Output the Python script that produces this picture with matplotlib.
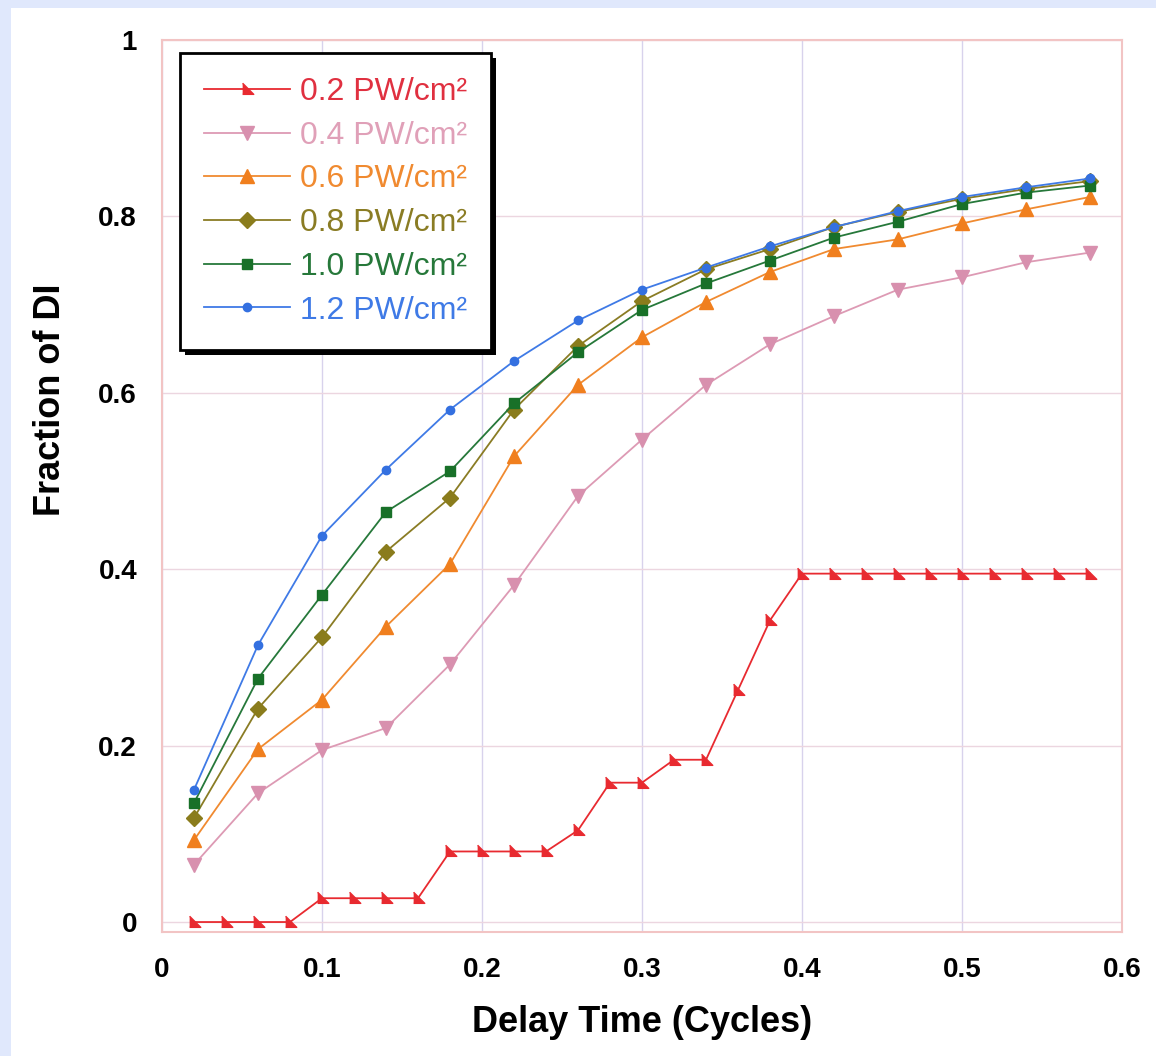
import matplotlib
matplotlib.use("Agg")
import matplotlib.pyplot as plt
from matplotlib.patches import Rectangle
from matplotlib.transforms import IdentityTransform
import numpy as np

plt.rcParams['font.family'] = ['Liberation Sans', 'DejaVu Sans']

# ---- data ----
x_fine = [0.02, 0.04, 0.06, 0.08, 0.10, 0.12, 0.14, 0.16, 0.18, 0.20,
          0.22, 0.24, 0.26, 0.28, 0.30, 0.32, 0.34, 0.36, 0.38, 0.40,
          0.42, 0.44, 0.46, 0.48, 0.50, 0.52, 0.54, 0.56, 0.58]
y_02 = [0.0, 0.0, 0.0, 0.0, 0.027, 0.027, 0.027, 0.027, 0.080, 0.080,
        0.080, 0.080, 0.104, 0.158, 0.158, 0.184, 0.184, 0.263, 0.342, 0.395,
        0.395, 0.395, 0.395, 0.395, 0.395, 0.395, 0.395, 0.395, 0.395]

x_coarse = [0.02, 0.06, 0.10, 0.14, 0.18, 0.22, 0.26, 0.30, 0.34, 0.38,
            0.42, 0.46, 0.50, 0.54, 0.58]
y_04 = [0.065, 0.146, 0.195, 0.220, 0.292, 0.382, 0.483, 0.547, 0.609, 0.655,
        0.687, 0.717, 0.731, 0.748, 0.759]
y_06 = [0.093, 0.196, 0.252, 0.335, 0.406, 0.528, 0.609, 0.663, 0.703, 0.737,
        0.763, 0.774, 0.792, 0.808, 0.822]
y_08 = [0.118, 0.242, 0.323, 0.420, 0.481, 0.581, 0.653, 0.704, 0.740, 0.763,
        0.788, 0.805, 0.820, 0.831, 0.840]
y_10 = [0.135, 0.276, 0.371, 0.465, 0.511, 0.588, 0.646, 0.694, 0.724, 0.750,
        0.776, 0.794, 0.814, 0.827, 0.835]
y_12 = [0.150, 0.314, 0.438, 0.513, 0.581, 0.636, 0.682, 0.717, 0.742, 0.766,
        0.788, 0.806, 0.822, 0.833, 0.843]

labels = ['0.2 PW/cm²', '0.4 PW/cm²', '0.6 PW/cm²',
          '0.8 PW/cm²', '1.0 PW/cm²', '1.2 PW/cm²']
x_ticks = [0, 0.1, 0.2, 0.3, 0.4, 0.5, 0.6]
x_ticklabels = ['0', '0.1', '0.2', '0.3', '0.4', '0.5', '0.6']
y_ticks = [0, 0.2, 0.4, 0.6, 0.8, 1.0]
y_ticklabels = ['0', '0.2', '0.4', '0.6', '0.8', '1']

# ---- figure ----
W, H = 1156, 1056
fig = plt.figure(figsize=(W / 100, H / 100), dpi=100, facecolor='#e0e8fc')
bg = Rectangle((11 / W, 0), 1, 1 - 8 / H, transform=fig.transFigure,
               facecolor='white', edgecolor='none', zorder=-10)
fig.add_artist(bg)

ax = fig.add_axes([162 / W, 1 - 932 / H, 960 / W, 892 / H])
ax.set_zorder(1)
ax.set_xlim(0, 0.6)
ax.set_ylim(-0.0113, 1.0)

tri = [(-0.7, 0.9), (0.9, -0.7), (-0.7, -0.7)]

ax.plot(x_fine, y_02, color='#e82a30', lw=1.3, marker=tri, ms=9,
        label=labels[0], zorder=3)
ax.plot(x_coarse, y_04, color='#dd9ab4', lw=1.3, marker='v', ms=10,
        mfc='#d890ae', mec='#d890ae', label=labels[1], zorder=3)
ax.plot(x_coarse, y_06, color='#f08a30', lw=1.3, marker='^', ms=10,
        mfc='#f07f1e', mec='#f07f1e', label=labels[2], zorder=3)
ax.plot(x_coarse, y_08, color='#8a7c24', lw=1.3, marker='D', ms=8,
        mfc='#8a7c1c', mec='#8a7c1c', label=labels[3], zorder=3)
ax.plot(x_coarse, y_10, color='#26783a', lw=1.3, marker='s', ms=7.5,
        mfc='#187028', mec='#187028', label=labels[4], zorder=3)
ax.plot(x_coarse, y_12, color='#3f7ae6', lw=1.3, marker='o', ms=6,
        mfc='#3470e0', mec='#3470e0', label=labels[5], zorder=3)

ax.set_xticks(x_ticks)
ax.set_xticklabels(x_ticklabels)
ax.set_yticks(y_ticks)
ax.set_yticklabels(y_ticklabels)
ax.tick_params(length=0, labelsize=20, pad=18)
for t in ax.get_xticklabels() + ax.get_yticklabels():
    t.set_fontweight('bold')

ax.xaxis.grid(True, color='#d8d2ec', lw=1.0)
ax.yaxis.grid(True, color='#ecd6e0', lw=1.0)
ax.set_axisbelow(True)
for s in ax.spines.values():
    s.set_color('#f2c4c4')
    s.set_linewidth(1.5)

ax.set_xlabel('Delay Time (Cycles)', fontsize=26, fontweight='bold')
ax.xaxis.set_label_coords(0.5, (932 - 1022) / 892, transform=ax.transAxes)
ax.xaxis.label.set_va('center')
ax.set_ylabel('Fraction of DI', fontsize=26, fontweight='bold')
ax.yaxis.set_label_coords((51 - 162) / 960, (932 - 400) / 892)
ax.yaxis.label.set_va('center')

leg = ax.legend(loc='upper left', bbox_to_anchor=(18 / 960, 1 - 13 / 892),
                fontsize=23, frameon=True, fancybox=False, handlelength=2.7,
                handletextpad=0.3, borderpad=0.75, labelspacing=0.43,
                borderaxespad=0)
leg.get_frame().set_edgecolor('black')
leg.get_frame().set_linewidth(2)
leg.get_frame().set_alpha(1)
leg.set_zorder(6)
line_colors = ['#e03040', '#e0a0b8', '#f08a30', '#8a7c24', '#26783a', '#3f7ae6']
for t, c in zip(leg.get_texts(), line_colors):
    t.set_color(c)

fig.canvas.draw()
bb = leg.get_window_extent(fig.canvas.get_renderer())
shadow = Rectangle((bb.x0 + 5, bb.y0 - 5), bb.width, bb.height,
                   transform=IdentityTransform(), facecolor='black',
                   edgecolor='none', zorder=5.5)
ax.add_artist(shadow)

fig.savefig('out.png', dpi=100, facecolor=fig.get_facecolor())
